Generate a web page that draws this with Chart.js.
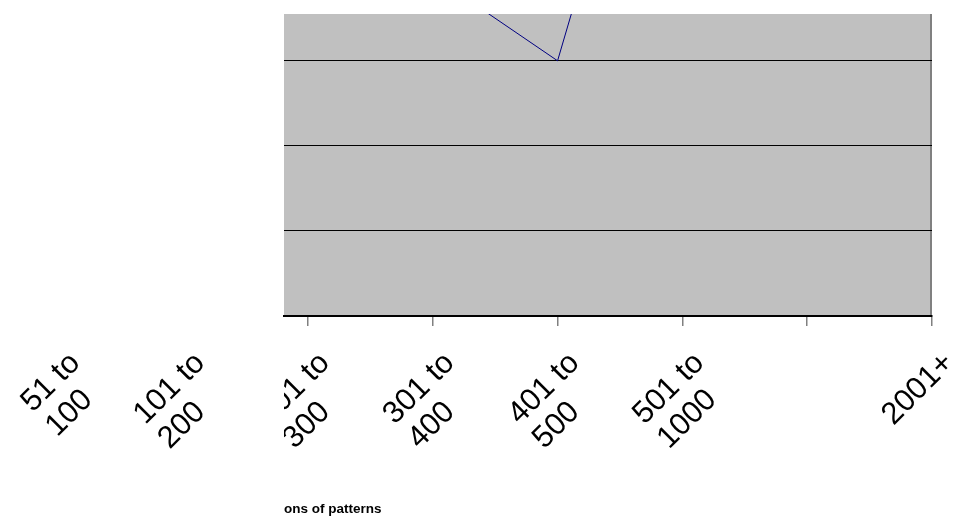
<!DOCTYPE html>
<html>
<head>
<meta charset="utf-8">
<script src="https://cdn.jsdelivr.net/npm/chart.js@4/dist/chart.umd.min.js"></script>
<style>
  html, body { margin: 0; padding: 0; background: #ffffff; }
  #wrap { width: 968px; height: 522px; }
</style>
</head>
<body>
<div id="wrap"><canvas id="chart" width="968" height="522"></canvas></div>
<script>
// Size bands of the pattern counts (one entry per line of each tick label)
const categories = [
  ['51 to', '100'],
  ['101 to', '200'],
  ['201 to', '300'],
  ['301 to', '400'],
  ['401 to', '500'],
  ['501 to', '1000'],
  [''],
  ['2001+']
];
// Number of occurrences in each band
const patternCounts = [14, 11, 6, 4, 3, 8, 5, 7];
// Visible value window of the plot
const yMin = 0;
const yMax = 3.55;
const yStep = 1;
const xFirstVisible = 1.808;
const xTitle = 'ons of patterns';

const FONT_FAMILY = "'Liberation Sans', Arial, Helvetica, sans-serif";
const TICK_FONT_SIZE = 31;
Chart.defaults.font.family = FONT_FAMILY;
Chart.defaults.color = '#000000';

// Pads the shorter lines of a label with spaces so the block reads left-aligned
const measureCtx = document.createElement('canvas').getContext('2d');
function padLines(lines) {
  measureCtx.font = TICK_FONT_SIZE + 'px ' + FONT_FAMILY;
  const widest = Math.max(...lines.map(l => measureCtx.measureText(l).width));
  return lines.map(l => {
    let s = l;
    if (!s) return s;
    while (measureCtx.measureText(s + ' ').width <= widest + 0.5) s += ' ';
    return s;
  });
}

// Grey plot background with a darker right edge
const plotBackground = {
  id: 'plotBackground',
  beforeDraw(chart) {
    const { ctx, chartArea: { left, top, right, bottom } } = chart;
    ctx.save();
    ctx.fillStyle = '#c0c0c0';
    ctx.fillRect(left, top, right - left, bottom - top);
    ctx.fillStyle = '#808080';
    ctx.fillRect(right - 2, top, 2, bottom - top);
    ctx.restore();
  }
};

// Blanks the strip just left of the plot below the axis
const labelMask = {
  id: 'labelMask',
  afterDraw(chart) {
    const { ctx, chartArea: { left, bottom } } = chart;
    const xs = chart.scales.x;
    const from = (xs.getPixelForValue(1) + left) / 2;
    ctx.save();
    ctx.fillStyle = '#ffffff';
    ctx.fillRect(from, bottom + 1, left - from, chart.height - bottom);
    ctx.restore();
  }
};

new Chart(document.getElementById('chart'), {
  type: 'line',
  data: {
    datasets: [{
      data: patternCounts.map((v, i) => ({ x: i, y: v })),
      borderColor: '#000080',
      borderWidth: 1,
      pointRadius: 0,
      tension: 0,
      fill: false,
      clip: 0
    }]
  },
  options: {
    responsive: false,
    animation: false,
    layout: { padding: { left: 284, right: 36, top: 14, bottom: 0 } },
    plugins: { legend: { display: false }, tooltip: { enabled: false } },
    scales: {
      x: {
        type: 'linear',
        position: 'bottom',
        min: xFirstVisible,
        max: categories.length - 1,
        afterBuildTicks: s => { s.ticks = categories.map((_, i) => ({ value: i })); },
        afterFit: s => { s.paddingLeft = 0; s.paddingRight = 0; s.height = 206; },
        grid: {
          drawOnChartArea: false,
          drawTicks: true,
          tickLength: 10,
          color: c => (c.tick && c.tick.value < xFirstVisible) ? 'rgba(0,0,0,0)' : '#808080',
          lineWidth: 1.5
        },
        border: { display: true, color: '#000000', width: 2 },
        ticks: {
          autoSkip: false,
          minRotation: 45,
          maxRotation: 45,
          padding: 20,
          labelOffset: 17,
          color: '#000000',
          font: { size: TICK_FONT_SIZE, lineHeight: 1.12 },
          callback: v => padLines(categories[v])
        },
        title: {
          display: true,
          text: xTitle,
          align: 'start',
          color: '#000000',
          font: { size: 13.5, weight: 'bold' },
          padding: { top: 0, bottom: 5 }
        }
      },
      y: {
        min: yMin,
        max: yMax,
        ticks: { display: false, stepSize: yStep, includeBounds: false },
        grid: { color: '#000000', lineWidth: 1, drawTicks: false },
        border: { display: false }
      }
    }
  },
  plugins: [plotBackground, labelMask]
});
</script>
</body>
</html>
